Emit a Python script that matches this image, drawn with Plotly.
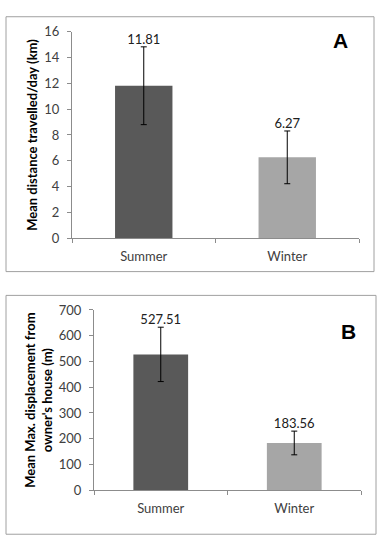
import plotly.graph_objects as go

seasons = ["Summer", "Winter"]
distance_km = [11.81, 6.27]
distance_err = [3.01, 2.04]
displacement_m = [527.51, 183.56]
displacement_err = [105.5, 46.0]
bar_colors = ["#595959", "#a6a6a6"]

W, H = 382, 550
def px(x):
    return x / W
def py(y):
    return 1 - y / H

FONT = "Lato, Open Sans, sans-serif"
TICKC = "#404040"
AXC = "#8c8c8c"

fig = go.Figure()

# Panel A
fig.add_trace(go.Bar(
    x=seasons, y=distance_km, marker_color=bar_colors, marker_line_width=0,
    error_y=dict(type="data", array=distance_err, color="black", thickness=1, width=3),
    xaxis="x", yaxis="y", showlegend=False, width=0.4,
))
fig.add_trace(go.Scatter(
    x=seasons, y=[v + e for v, e in zip(distance_km, distance_err)],
    text=[f"{v:.2f}" for v in distance_km], mode="text", textposition="top center",
    textfont=dict(family=FONT, size=13, color="#202020"),
    xaxis="x", yaxis="y", showlegend=False, cliponaxis=False,
))

# Panel B
fig.add_trace(go.Bar(
    x=seasons, y=displacement_m, marker_color=bar_colors, marker_line_width=0,
    error_y=dict(type="data", array=displacement_err, color="black", thickness=1, width=3),
    xaxis="x2", yaxis="y2", showlegend=False, width=0.41,
))
fig.add_trace(go.Scatter(
    x=seasons, y=[v + e for v, e in zip(displacement_m, displacement_err)],
    text=[f"{v:.2f}" for v in displacement_m], mode="text", textposition="top center",
    textfont=dict(family=FONT, size=13, color="#202020"),
    xaxis="x2", yaxis="y2", showlegend=False, cliponaxis=False,
))

xcommon = dict(showline=True, linecolor=AXC, linewidth=1, ticks="outside",
               tickson="boundaries", ticklen=4, tickcolor=AXC, showgrid=False,
               ticklabelstandoff=6,
               tickfont=dict(family=FONT, size=13, color=TICKC), zeroline=False)
ycommon = dict(showline=True, linecolor=AXC, linewidth=1, ticks="outside",
               ticklen=4, tickcolor=AXC, showgrid=False, zeroline=False,
               ticklabelstandoff=5,
               tickfont=dict(family=FONT, size=13, color=TICKC))

fig.update_layout(
    width=W, height=H, margin=dict(l=0, r=0, t=0, b=0),
    paper_bgcolor="white", plot_bgcolor="white",
    bargap=0.6,
    xaxis=dict(domain=[px(72), px(359)], anchor="y", **xcommon),
    yaxis=dict(domain=[py(237.3), py(24.3)], anchor="x", range=[0, 16], dtick=2,
               title=dict(text="<b>Mean distance travelled/day (km)</b>", standoff=3,
                          font=dict(family=FONT, size=13, color="black")),
               **ycommon),
    xaxis2=dict(domain=[px(94), px(361)], anchor="y2", **xcommon),
    yaxis2=dict(domain=[py(496.7), py(311)], anchor="x2", range=[0, 700], dtick=100,
                title=dict(text="<b>Mean Max. displacement from<br>owner's house (m)</b>", standoff=3,
                           font=dict(family=FONT, size=13, color="black")),
                **ycommon),
    shapes=[
        dict(type="rect", xref="paper", yref="paper", x0=px(6), x1=px(374), y0=py(271.5), y1=py(9),
             line=dict(color="#a0a0a0", width=1)),
        dict(type="rect", xref="paper", yref="paper", x0=px(6), x1=px(376), y0=py(542), y1=py(296),
             line=dict(color="#a0a0a0", width=1)),
    ],
    annotations=[
        dict(text="<b>A</b>", xref="paper", yref="paper", x=px(340), y=py(33), showarrow=False,
             xanchor="center", yanchor="middle",
             font=dict(family="Liberation Sans, Arial, sans-serif", size=21, color="black")),
        dict(text="<b>B</b>", xref="paper", yref="paper", x=px(348), y=py(333), showarrow=False,
             xanchor="center", yanchor="middle",
             font=dict(family="Liberation Sans, Arial, sans-serif", size=21, color="black")),
    ],
)

fig.write_html("out.html", config={"displayModeBar": False},
               post_script="document.body.style.margin='0';")
